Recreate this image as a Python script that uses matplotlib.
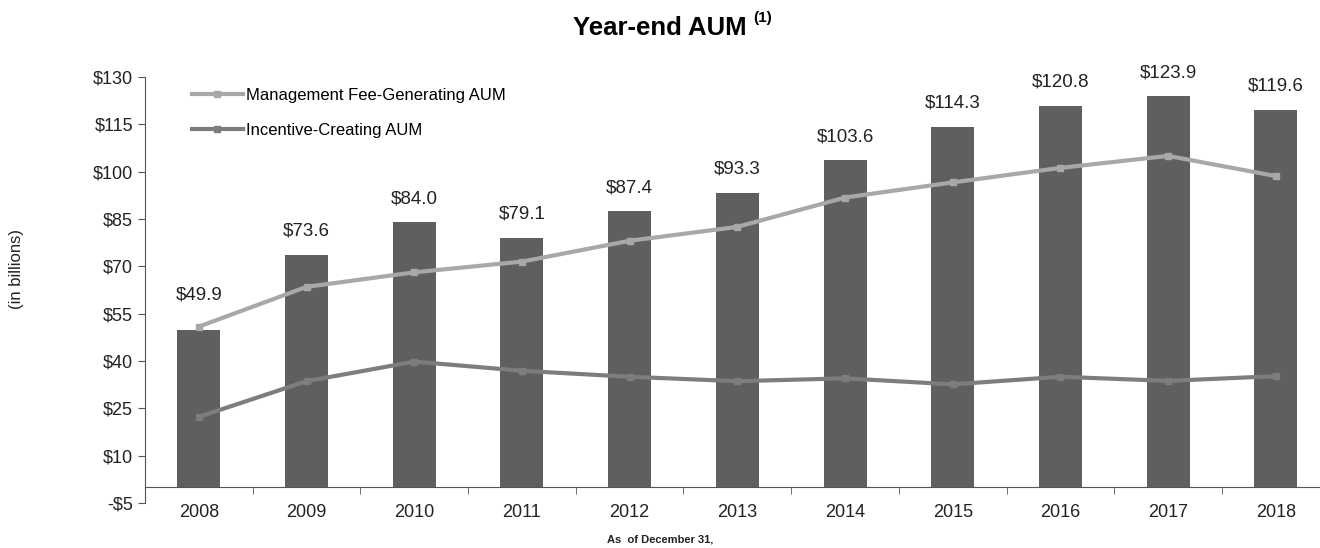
import numpy as np
import matplotlib
matplotlib.use("Agg")
import matplotlib.pyplot as plt

plt.rcParams["font.family"] = ["Liberation Sans", "DejaVu Sans"]

years = ["2008", "2009", "2010", "2011", "2012", "2013",
         "2014", "2015", "2016", "2017", "2018"]
total_aum = [49.9, 73.6, 84.0, 79.1, 87.4, 93.3, 103.6, 114.3, 120.8, 123.9, 119.6]
mgmt_fee_aum = [50.9, 63.5, 68.1, 71.5, 78.1, 82.5, 91.8, 96.6, 101.2, 105.0, 98.6]
incentive_aum = [22.3, 33.6, 39.8, 36.9, 35.0, 33.6, 34.5, 32.6, 35.0, 33.7, 35.2]
y_ticks = [-5, 10, 25, 40, 55, 70, 85, 100, 115, 130]

BAR_COLOR  = "#5f5f5f"
MGMT_COLOR = "#a8a8a8"
INC_COLOR  = "#7d7d7d"
TEXT_COLOR = "#222222"

fig = plt.figure(figsize=(13.2, 5.48), dpi=100)
ax = fig.add_axes([145 / 1320, 45 / 548, 1 - 145 / 1320, 426 / 548])

x = np.arange(len(years))
ax.bar(x, total_aum, width=0.40, color=BAR_COLOR, zorder=2)
ax.plot(x, mgmt_fee_aum, color=MGMT_COLOR, lw=3, marker="s", ms=5,
        label="Management Fee-Generating AUM", zorder=3)
ax.plot(x, incentive_aum, color=INC_COLOR, lw=3, marker="s", ms=5,
        label="Incentive-Creating AUM", zorder=3)

# value labels sit a little above each bar
for i, (xi, v) in enumerate(zip(x, total_aum)):
    lift = 25 if i == 0 else 17
    ax.annotate(f"${v:.1f}", (xi, v), xytext=(0, lift), textcoords="offset points",
                ha="center", va="center", fontsize=13.5, color=TEXT_COLOR)

# right side of the plot runs past the figure edge, as in the original
ax.set_xlim(-0.5, 10.41)
ax.set_ylim(-5, 130)
ax.set_yticks(y_ticks)
ax.set_yticklabels([f"-${-t}" if t < 0 else f"${t}" for t in y_ticks])
ax.set_xticks(x)
ax.set_xticklabels(years)
ax.set_xticks(x[:-1] + 0.5, minor=True)

for s in ["top", "right"]:
    ax.spines[s].set_visible(False)
ax.spines["bottom"].set_position(("data", 0))
ax.spines["left"].set_color("#555555")
ax.spines["bottom"].set_color("#555555")
ax.tick_params(axis="y", length=5, color="#555555", labelsize=13, labelcolor=TEXT_COLOR)
ax.tick_params(axis="x", which="major", length=0, pad=12, labelsize=13, labelcolor=TEXT_COLOR)
ax.tick_params(axis="x", which="minor", length=5, color="#555555")

ax.legend(loc="upper left", bbox_to_anchor=(0.034, 0.99), frameon=False,
          fontsize=12, handlelength=3.1, handletextpad=0.15, labelspacing=1.2,
          borderaxespad=0)

fig.text(0.5, 1 - 28 / 548, "Year-end AUM", ha="center", va="center",
         fontsize=18.5, fontweight="bold", color="black")
fig.text(763 / 1320, 1 - 18 / 548, "(1)", ha="center", va="center",
         fontsize=11, fontweight="bold", color="black")
fig.text(0.5, 1 - 540 / 548, "As  of December 31,", ha="center", va="center",
         fontsize=8, fontweight="bold", color=TEXT_COLOR)
fig.text(17 / 1320, 1 - 269 / 548, "(in billions)", ha="center", va="center",
         rotation=90, fontsize=12, color=TEXT_COLOR)

fig.savefig("out.png", dpi=100)
